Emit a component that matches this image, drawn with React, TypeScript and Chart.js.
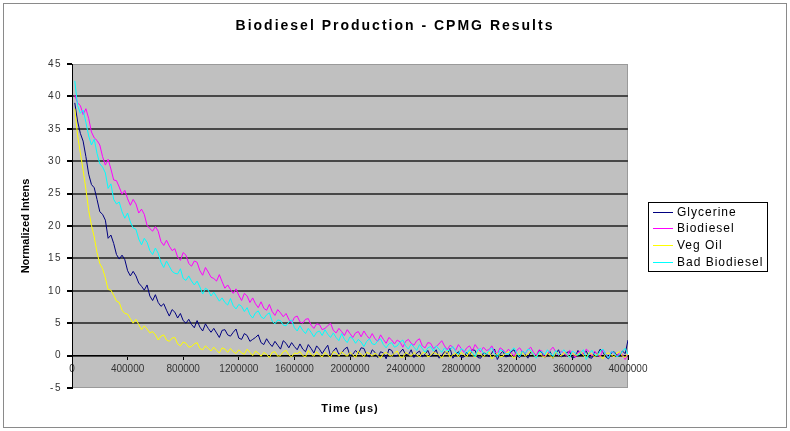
import { useEffect, useRef } from "react";
import { Chart, registerables, layouts } from "chart.js";

Chart.register(...registerables);

const TITLE = "Biodiesel Production - CPMG Results";
const X_TITLE = "Time (µs)";
const Y_TITLE = "Normalized Intens";

const SERIES_NAMES = ["Glycerine", "Biodiesel", "Veg Oil", "Bad Biodiesel"];
const SERIES_COLORS = ["#000080", "#ff00ff", "#ffff00", "#00ffff"];

// echo train sampling: first echo at 20 000 µs, one reading every 20 000 µs
const FIRST_ECHO_US = 20000;
const ECHO_STEP_US = 20000;

const glycerine = [
  39.0, 36.2, 34.3, 33.1, 30.7, 28.0, 26.4, 25.9, 24.1, 22.2,
  21.8, 20.9, 18.1, 18.6, 17.3, 15.6, 14.9, 15.5, 14.8, 13.1,
  12.3, 13.0, 12.3, 11.2, 10.7, 10.1, 10.9, 9.2, 8.5, 9.4,
  8.2, 7.6, 8.0, 7.0, 6.1, 7.1, 6.7, 5.8, 6.5, 5.4,
  5.0, 5.6, 4.8, 4.3, 5.4, 4.4, 3.8, 4.9, 4.2, 3.6,
  4.2, 3.5, 2.8, 3.9, 4.0, 3.2, 3.0, 3.6, 4.1, 2.7,
  2.5, 3.4, 3.1, 2.2, 2.5, 2.8, 3.2, 2.0, 1.7, 2.6,
  1.9, 1.4, 2.2, 1.6, 1.0, 2.3, 1.9, 1.2, 2.0, 1.4,
  0.9, 1.8, 1.0, 0.6, 1.7, 1.1, 0.4, 1.5, 1.0, 0.3,
  1.0, 1.6, -0.1, 0.7, 1.2, 0.2, 0.4, 1.0, 1.3, 0.0,
  0.2, 0.8, 0.3, 1.2, 1.1, 0.1, -0.2, 0.9, 0.5, -0.3,
  0.6, 0.4, -0.5, 1.0, 0.8, -0.1, 0.0, 0.5, 1.0, 0.2,
  0.1, 0.9, -0.3, 0.4, 0.7, -0.2, 0.2, 0.8, -0.2, 0.3,
  0.9, -0.4, 0.0, 0.6, 0.3, 1.1, -0.4, 0.2, 0.6, -0.3,
  -0.2, 0.5, 0.0, 0.9, 0.8, -0.3, -0.4, 0.4, 0.3, -0.2,
  0.4, 1.0, -0.6, 0.2, 0.7, -0.2, -0.1, 0.6, 0.9, 0.0,
  -0.3, 0.7, 0.2, -0.4, 0.6, 0.1, -0.2, 0.8, 0.5, -0.3,
  0.1, 0.6, -0.4, 0.3, 0.9, -0.2, 0.0, 0.5, 0.6, -0.4,
  -0.2, 0.8, 0.1, 0.3, 0.7, -0.3, -0.4, 0.6, 0.2, 1.0,
  0.5, -0.2, -0.5, 0.4, 0.6, 0.1, 0.0, 0.7, 0.3, 2.4,
];

const biodiesel = [
  40.2, 39.0, 38.6, 37.2, 38.1, 36.6, 34.5, 33.6, 33.2, 32.5,
  30.7, 29.4, 30.3, 28.8, 27.1, 27.0, 26.0, 24.9, 25.5, 24.2,
  23.2, 24.1, 23.4, 22.0, 22.6, 21.8, 20.1, 19.6, 19.2, 19.9,
  19.2, 17.6, 17.0, 17.8, 16.9, 16.2, 16.5, 15.2, 14.7, 15.9,
  15.5, 14.2, 13.8, 14.6, 14.4, 13.1, 12.4, 13.6, 12.9, 12.1,
  11.9, 11.5, 12.5, 11.4, 10.4, 10.9, 10.2, 9.6, 10.3, 9.3,
  8.5, 9.6, 9.2, 8.2, 8.9, 8.0, 7.4, 8.3, 7.3, 7.0,
  7.9, 6.8, 6.2, 7.1, 6.6, 6.0, 6.5, 5.6, 5.0, 5.9,
  6.1, 5.2, 5.0, 5.6, 5.7, 4.7, 4.2, 4.9, 4.8, 4.0,
  4.2, 4.6, 5.0, 3.9, 3.5, 4.2, 3.7, 3.1, 4.0, 3.4,
  2.8, 3.5, 3.7, 2.9, 3.8, 3.1, 2.6, 3.4, 2.6, 2.2,
  3.2, 2.5, 1.9, 2.8, 2.4, 1.8, 2.4, 2.1, 1.3, 2.2,
  2.5, 1.9, 1.6, 2.3, 2.6, 1.5, 1.2, 2.0, 1.9, 1.1,
  1.4, 1.8, 2.3, 1.5, 0.9, 1.6, 1.3, 0.8, 1.7, 1.1,
  0.5, 1.2, 1.5, 0.7, 1.7, 1.1, 0.6, 1.3, 0.8, 0.9,
  1.5, 0.6, 0.3, 1.2, 0.9, 0.4, 1.0, 0.5, -0.1, 0.8,
  1.2, 0.6, 0.3, 0.9, 1.3, 0.5, 0.0, 0.9, 0.7, -0.2,
  0.3, 0.8, 1.3, 0.6, 0.0, 0.7, 0.3, -0.1, 0.8, 0.4,
  -0.3, 0.5, 0.7, 0.2, 1.0, 0.6, -0.1, 0.7, 0.1, -0.2,
  0.9, 0.3, -0.3, 0.6, 0.4, -0.1, 0.5, 0.2, -0.6, 0.3,
];

const vegOil = [
  38.1, 34.0, 31.3, 28.6, 25.7, 22.4, 20.1, 18.3, 15.9, 14.2,
  13.4, 12.0, 10.2, 10.1, 9.3, 8.4, 8.2, 7.0, 6.5, 6.4,
  5.7, 5.0, 5.6, 4.8, 4.0, 4.6, 4.1, 3.5, 3.7, 3.2,
  2.4, 3.0, 3.2, 2.4, 2.2, 2.7, 2.8, 1.8, 1.5, 2.1,
  1.9, 1.3, 1.4, 1.8, 2.0, 1.1, 0.9, 1.5, 1.1, 0.7,
  1.3, 0.8, 0.4, 1.2, 1.0, 0.5, 1.1, 0.6, 0.3, 0.9,
  0.4, 0.2, 1.0, 0.5, 0.0, 0.7, 0.4, -0.1, 0.5, 0.2,
  -0.3, 0.5, 0.6, -0.1, 0.0, 0.6, 0.8, 0.1, -0.2, 0.4,
  0.3, 0.6, 0.0, -0.2, 0.8, 0.2, -0.1, 0.6, 0.1, -0.2,
  0.5, 0.1, -0.3, 0.6, 0.4, -0.1, 0.6, 0.2, -0.1, 0.5,
  0.1, -0.3, 0.7, 0.2, -0.2, 0.5, 0.3, -0.1, 0.4, 0.0,
  -0.4, 0.3, 0.5, 0.1, -0.1, 0.4, 0.7, -0.2, -0.3, 0.5,
  0.2, -0.1, 0.5, 0.1, -0.2, 0.4, 0.6, -0.2, 0.0, 0.5,
  0.3, 0.1, -0.4, 0.3, 0.7, -0.3, 0.1, 0.4, -0.2, 0.5,
  0.1, -0.2, 0.6, 0.1, -0.3, 0.5, 0.2, -0.2, 0.3, 0.6,
  -0.5, 0.0, 0.4, -0.2, -0.1, 0.4, 0.6, 0.1, -0.4, 0.3,
  0.2, 0.5, -0.1, 0.2, 0.7, 0.1, -0.2, 0.5, 0.0, -0.3,
  0.4, 0.0, -0.4, 0.5, 0.3, -0.1, 0.5, 0.1, -0.2, 0.4,
  0.0, 0.2, 0.6, 0.0, -0.4, 0.5, 0.2, -0.2, 0.3, 0.0,
  -0.5, 0.3, 0.4, 0.1, -0.2, 0.4, 0.6, -0.1, -0.3, 0.3,
];

const badBiodiesel = [
  42.4, 38.6, 37.4, 37.9, 36.0, 33.9, 32.5, 33.4, 31.2, 29.6,
  29.1, 28.2, 25.8, 26.5, 24.1, 23.4, 23.7, 22.2, 21.2, 22.0,
  20.6, 19.7, 19.5, 18.0, 17.1, 18.1, 17.5, 16.2, 15.6, 16.6,
  15.8, 14.4, 13.6, 14.6, 13.8, 13.0, 12.7, 12.6, 13.4, 11.9,
  11.6, 12.3, 11.5, 10.9, 11.5, 10.6, 9.5, 10.4, 10.1, 9.2,
  9.8, 9.1, 8.4, 8.9, 8.2, 7.8, 8.8, 7.7, 7.2, 7.9,
  7.6, 6.8, 7.4, 6.3, 5.8, 6.6, 6.9, 6.0, 5.7, 6.3,
  6.6, 5.3, 4.9, 5.5, 5.4, 4.7, 4.6, 5.2, 5.5, 4.3,
  3.8, 4.6, 3.9, 3.4, 4.2, 3.6, 2.9, 3.6, 3.8, 3.1,
  4.0, 3.3, 2.8, 3.5, 2.8, 2.3, 3.4, 2.5, 2.0, 2.9,
  2.6, 1.9, 2.5, 2.1, 1.4, 2.2, 2.6, 1.8, 1.7, 2.3,
  2.6, 1.7, 1.2, 1.8, 2.0, 1.3, 1.5, 2.1, 2.4, 1.5,
  1.0, 1.8, 1.3, 0.8, 1.7, 1.1, 0.5, 1.2, 1.4, 0.7,
  1.5, 1.0, 0.5, 1.2, 0.7, 0.9, 1.4, 0.6, 0.2, 1.1,
  0.8, 0.3, 0.9, 0.5, -0.2, 0.9, 1.1, 0.4, 0.2, 0.8,
  1.2, 0.3, -0.2, 0.9, 0.7, 0.3, 0.2, 0.8, 1.2, 0.4,
  -0.2, 0.7, 0.3, 1.0, 0.8, 0.2, -0.4, 0.5, 0.6, 0.1,
  0.9, 0.4, -0.1, 0.8, 0.1, 0.5, 0.9, 0.2, -0.3, 0.7,
  0.4, 0.0, 0.5, 0.9, -0.6, 0.3, 0.8, 0.1, 0.0, 0.7,
  1.0, 0.2, -0.4, 0.6, 0.5, -0.2, 0.1, 0.7, 1.1, 0.2,
];

const SERIES = [glycerine, biodiesel, vegOil, badBiodiesel];

const X_MIN = 0;
const X_MAX = 4000000;
const X_STEP = 400000;
const Y_MIN = -5;
const Y_MAX = 45;
const Y_STEP = 5;

const FONT = "'Liberation Sans', Arial, sans-serif";
const PLOT_BG = "#c0c0c0";
const GRID_DARK = "#474747";

// Temporarily applies canvas letter spacing around one drawing method.
function withSpacing(ctx: any, target: any, method: string, spacing: string) {
  if (!target || typeof target[method] !== "function" || target[method].__spaced) return;
  const original = target[method];
  const wrapped: any = function (this: any, ...args: any[]) {
    const prev = ctx.letterSpacing;
    ctx.letterSpacing = spacing;
    try {
      return original.apply(this, args);
    } finally {
      ctx.letterSpacing = prev;
    }
  };
  wrapped.__spaced = true;
  target[method] = wrapped;
}

const textSpacing = {
  id: "textSpacing",
  afterLayout(chart: any) {
    const ctx = chart.ctx;
    withSpacing(ctx, chart.titleBlock, "draw", "2px");
    withSpacing(ctx, chart.scales.y, "drawLabels", "1.5px");
    withSpacing(ctx, chart.scales.x, "drawTitle", "1px");
  },
};

// White page, outer frame and the silver plot area.
const frame = {
  id: "frame",
  beforeDraw(chart: any) {
    const { ctx, chartArea, width, height } = chart;
    ctx.save();
    ctx.fillStyle = "#ffffff";
    ctx.fillRect(0, 0, width, height);
    ctx.strokeStyle = "#8a8a8a";
    ctx.lineWidth = 1;
    ctx.strokeRect(3.5, 3.5, width - 7, height - 7);
    ctx.fillStyle = PLOT_BG;
    ctx.fillRect(chartArea.left, chartArea.top, chartArea.right - chartArea.left, chartArea.bottom - chartArea.top);
    ctx.strokeStyle = "#9a9a9a";
    ctx.strokeRect(chartArea.left + 0.5, chartArea.top + 0.5, chartArea.right - chartArea.left - 1, chartArea.bottom - chartArea.top - 1);
    ctx.restore();
  },
};

// Boxed legend sitting in a reserved column right of the plot.
const sideLegend = {
  id: "sideLegend",
  start(chart: any) {
    const box: any = {
      position: "right",
      weight: 1000,
      fullSize: false,
      options: {},
      top: 0,
      left: 0,
      right: 0,
      bottom: 0,
      width: 0,
      height: 0,
      isHorizontal() {
        return false;
      },
      update(_maxWidth: number, maxHeight: number) {
        this.width = 162;
        this.height = maxHeight;
      },
      draw() {
        const ctx = chart.ctx;
        const left = Math.round(this.left + 20);
        const top = Math.round(this.top + 138);
        const w = 119;
        const h = 69;
        const rowH = 16.9;
        ctx.save();
        ctx.fillStyle = "#ffffff";
        ctx.fillRect(left, top, w, h);
        ctx.strokeStyle = "#000000";
        ctx.lineWidth = 1;
        ctx.strokeRect(left + 0.5, top + 0.5, w, h);
        ctx.font = `12px ${FONT}`;
        ctx.letterSpacing = "1px";
        ctx.textBaseline = "middle";
        ctx.textAlign = "left";
        chart.data.datasets.forEach((ds: any, i: number) => {
          const y = Math.round(top + 9.5 + i * rowH) + 0.5;
          ctx.strokeStyle = ds.borderColor;
          ctx.beginPath();
          ctx.moveTo(left + 5, y);
          ctx.lineTo(left + 25, y);
          ctx.stroke();
          ctx.fillStyle = "#000000";
          ctx.fillText(ds.label, left + 29, y);
        });
        ctx.restore();
      },
    };
    layouts.addBox(chart, box);
    chart.$sideLegend = box;
  },
  stop(chart: any) {
    if (chart.$sideLegend) layouts.removeBox(chart, chart.$sideLegend);
  },
};

export default function App() {
  const canvasRef = useRef<HTMLCanvasElement | null>(null);

  useEffect(() => {
    const canvas = canvasRef.current;
    if (!canvas) return;

    const datasets = SERIES.map((values, s) => ({
      label: SERIES_NAMES[s],
      data: values.map((v, i) => ({ x: FIRST_ECHO_US + i * ECHO_STEP_US, y: v })),
      borderColor: SERIES_COLORS[s],
      backgroundColor: SERIES_COLORS[s],
      borderWidth: 1,
      pointRadius: 0,
      tension: 0,
      fill: false,
      // later series are painted over earlier ones
      order: SERIES.length - 1 - s,
    }));

    const chart = new Chart(canvas, {
      type: "line",
      data: { datasets },
      plugins: [frame, textSpacing, sideLegend],
      options: {
        responsive: false,
        animation: false,
        devicePixelRatio: 1,
        layout: { padding: { top: 0, left: 0, right: 0, bottom: 43 } },
        plugins: {
          legend: { display: false },
          tooltip: { enabled: false },
          title: {
            display: true,
            text: TITLE,
            color: "#000000",
            font: { family: FONT, size: 14, weight: "bold" },
            padding: { top: 17.6, bottom: 29.6 },
          },
        },
        scales: {
          x: {
            type: "linear",
            position: { y: 0 } as any,
            min: X_MIN,
            max: X_MAX,
            ticks: {
              stepSize: X_STEP,
              autoSkip: false,
              maxRotation: 0,
              color: "#333333",
              padding: 4,
              font: { family: FONT, size: 10 },
              callback: (v: any) => String(v),
            },
            grid: {
              drawOnChartArea: false,
              drawTicks: true,
              tickLength: 4,
              tickColor: "#000000",
            },
            border: { display: true, color: "#000000", width: 1 },
            title: {
              display: true,
              text: X_TITLE,
              color: "#000000",
              font: { family: FONT, size: 11, weight: "bold" },
              padding: { top: 0, bottom: 2 },
            },
            afterFit(scale: any) {
              scale.height = 62;
              scale.paddingLeft = 0;
              scale.paddingRight = 0;
            },
          },
          y: {
            type: "linear",
            min: Y_MIN,
            max: Y_MAX,
            ticks: {
              stepSize: Y_STEP,
              color: "#333333",
              padding: 5,
              font: { family: FONT, size: 10 },
            },
            grid: {
              color: (c: any) =>
                c.tick && (c.tick.value === Y_MIN || c.tick.value === Y_MAX) ? "rgba(0,0,0,0)" : GRID_DARK,
              tickColor: "#000000",
              tickLength: 5,
              lineWidth: 2,
            },
            border: { display: true, color: "#000000", width: 1 },
            title: {
              display: true,
              text: Y_TITLE,
              color: "#000000",
              font: { family: FONT, size: 11, weight: "bold" },
              padding: { top: 19.4, bottom: 0 },
            },
            afterFit(scale: any) {
              scale.width = 72;
            },
          },
        },
      },
    } as any);

    return () => chart.destroy();
  }, []);

  return (
    <div style={{ position: "absolute", left: 0, top: 0, width: 790, height: 431 }}>
      <canvas ref={canvasRef} width={790} height={431} style={{ display: "block" }} />
    </div>
  );
}
